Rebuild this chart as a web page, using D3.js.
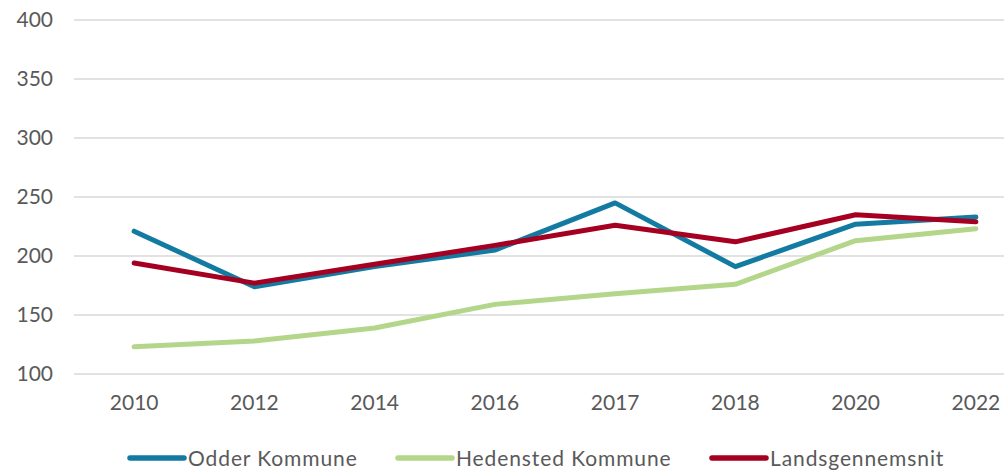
<!DOCTYPE html>
<html>
<head>
<meta charset="utf-8">
<script src="https://cdn.jsdelivr.net/npm/d3@7"></script>
<style>
  body { margin: 0; background: #fff; }
  svg { display: block; font-family: Lato, "Open Sans", sans-serif; }
</style>
</head>
<body>
<svg id="chart" width="1004" height="471"></svg>
<script>
// data
const years = ["2010", "2012", "2014", "2016", "2017", "2018", "2020", "2022"];
const odder = [221, 174, 191, 205, 245, 191, 227, 233];
const hedensted = [123, 128, 139, 159, 168, 176, 213, 223];
const lands = [194, 177, 193, 209, 226, 212, 235, 229];
const yTicks = [100, 150, 200, 250, 300, 350, 400];

const series = [
  { name: "Odder Kommune", values: odder, color: "#137ba1" },
  { name: "Hedensted Kommune", values: hedensted, color: "#b4d68a" },
  { name: "Landsgennemsnit", values: lands, color: "#a50021" }
];

const svg = d3.select("#chart");

const x = d3.scaleBand()
  .domain(years)
  .range([74, 1036]);

const y = d3.scaleLinear()
  .domain([100, 400])
  .range([374, 20]);

// gridlines
svg.append("g")
  .selectAll("line")
  .data(yTicks)
  .join("line")
  .attr("x1", 74).attr("x2", 1036)
  .attr("y1", d => y(d)).attr("y2", d => y(d))
  .attr("stroke", "#d9d9d9")
  .attr("stroke-width", 1.3);

// y axis labels
const yAxis = svg.append("g")
  .attr("transform", "translate(53,0)")
  .call(d3.axisLeft(y).tickValues(yTicks).tickSize(0).tickPadding(0));
yAxis.select(".domain").remove();
yAxis.selectAll("text")
  .attr("fill", "#595959")
  .style("font-size", "21px")
  .style("font-family", "Lato, 'Open Sans', sans-serif");

// x axis labels
const xAxis = svg.append("g")
  .attr("transform", "translate(0,395)")
  .call(d3.axisBottom(x).tickSize(0).tickPadding(0));
xAxis.select(".domain").remove();
xAxis.selectAll("text")
  .attr("fill", "#595959")
  .style("font-size", "21px")
  .style("font-family", "Lato, 'Open Sans', sans-serif");

const line = d3.line()
  .x((d, i) => x(years[i]) + x.bandwidth() / 2)
  .y(d => y(d));

svg.append("g")
  .selectAll("path")
  .data(series)
  .join("path")
  .attr("d", d => line(d.values))
  .attr("fill", "none")
  .attr("stroke", d => d.color)
  .attr("stroke-width", 5)
  .attr("stroke-linecap", "round")
  .attr("stroke-linejoin", "round");

// legend
const legendX = [130, 398, 712];
const lg = svg.append("g")
  .selectAll("g")
  .data(series)
  .join("g")
  .attr("transform", (d, i) => `translate(${legendX[i]},458)`);

lg.append("line")
  .attr("x1", 0).attr("x2", 54)
  .attr("stroke", d => d.color)
  .attr("stroke-width", 5.5)
  .attr("stroke-linecap", "round");

lg.append("text")
  .attr("x", 58)
  .attr("dy", "0.36em")
  .attr("fill", "#595959")
  .style("font-size", "21px")
  .style("letter-spacing", "0.9px")
  .text(d => d.name);
</script>
</body>
</html>
